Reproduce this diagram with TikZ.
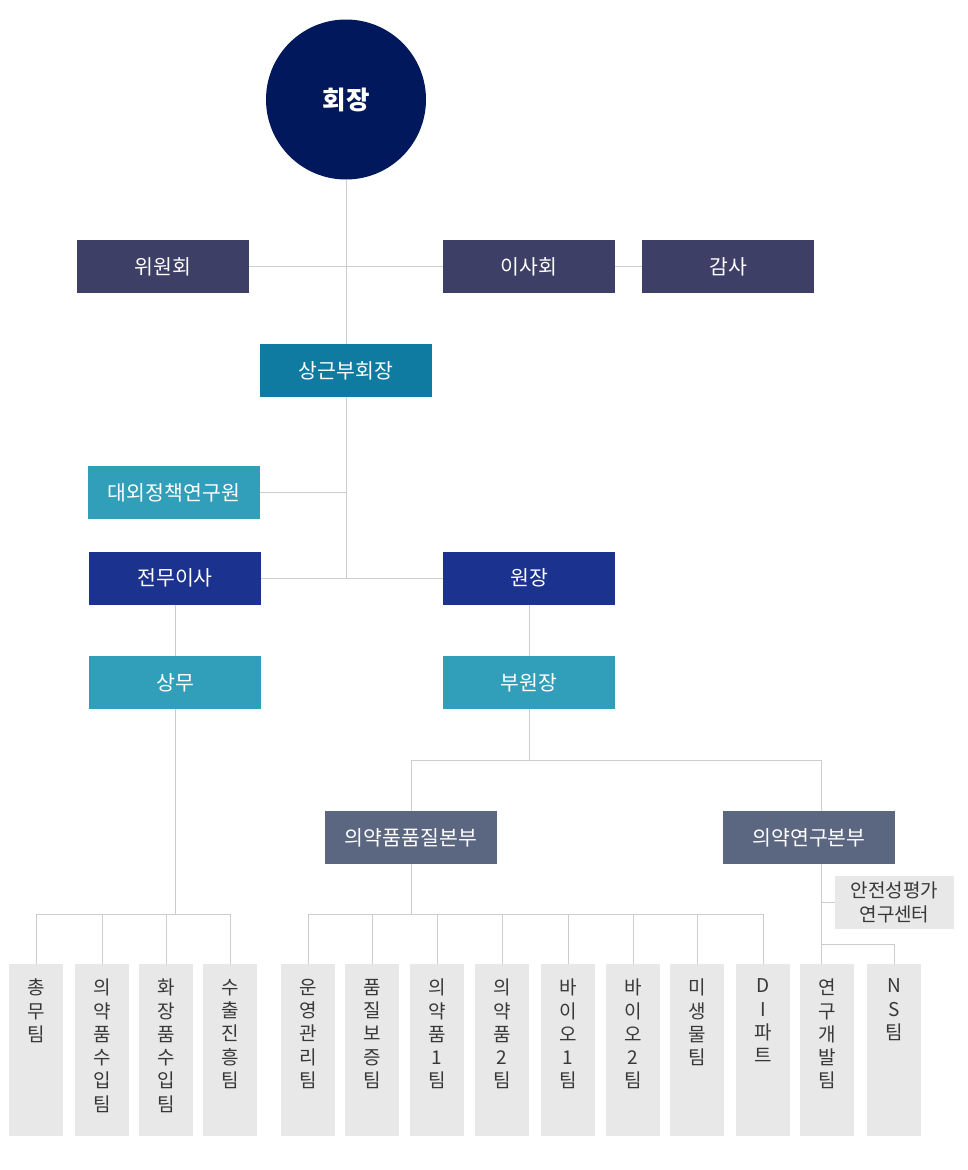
\documentclass[tikz,border=0pt]{standalone}
\usepackage{fontspec}
\setmainfont{Noto Sans CJK KR}
\usetikzlibrary{calc}
\definecolor{linegray}{HTML}{CCCCCC}
\definecolor{chairnavy}{HTML}{02185C}
\definecolor{boardgray}{HTML}{3D3F66}
\definecolor{vpteal}{HTML}{0F7BA0}
\definecolor{lightteal}{HTML}{329FBA}
\definecolor{royal}{HTML}{1B338E}
\definecolor{slate}{HTML}{5B6680}
\definecolor{teamfill}{HTML}{E8E8E8}
\definecolor{teamink}{HTML}{383838}
\begin{document}
\begin{tikzpicture}[x=1pt,y=-1pt,
  conn/.style={draw=linegray,line width=1pt},
  box/.style={rectangle,minimum width=172pt,minimum height=53pt,inner sep=0pt,text=white,font=\fontsize{20.5}{24}\selectfont},
  team/.style={rectangle,fill=teamfill,minimum width=54pt,minimum height=172pt,inner sep=0pt},
  teamtext/.style={anchor=north,inner sep=0pt,align=center,text=teamink,font=\fontsize{19}{23.3}\selectfont,execute at begin node={\vphantom{가}}},
]
\useasboundingbox (0,0) rectangle (968,1170);
\fill[white] (0,0) rectangle (968,1170);

% top
\node[circle,fill=chairnavy,minimum size=160pt,inner sep=0pt,text=white,font=\fontsize{25.5}{28}\selectfont\bfseries] (ch) at (346,99.5) {회장};
\node[box,fill=boardgray] (cm) at (163,266.5) {위원회};
\node[box,fill=boardgray] (bd) at (529,266.5) {이사회};
\node[box,fill=boardgray] (au) at (728,266.5) {감사};
\node[box,fill=vpteal] (vp) at (346,370.5) {상근부회장};
\node[box,fill=lightteal] (inst) at (174,492.5) {대외정책연구원};
\node[box,fill=royal] (ed) at (175,578) {전무이사};
\node[box,fill=royal] (dir) at (529,578) {원장};
\node[box,fill=lightteal] (sm) at (175,682.5) {상무};
\node[box,fill=lightteal] (vd) at (529,682.5) {부원장};
\node[box,fill=slate] (qa) at (411,837.5) {의약품품질본부};
\node[box,fill=slate] (rd) at (809,837.5) {의약연구본부};
\node[rectangle,fill=teamfill,minimum width=119pt,minimum height=53pt,inner sep=0pt,align=center,text=teamink,font=\fontsize{19}{24}\selectfont] (sf) at (894.5,902) {안전성평가\\연구센터};

% teams
\foreach \n/\x in {t1/36,t2/102,t3/166,t4/230,t5/308,t6/372,t7/437,t8/502,t9/568,t10/633,t11/697,t12/763,t13/827,t14/894}
  \node[team] (\n) at (\x,1050) {};
\node[teamtext] at ($(t1.north)+(0,15)$) {총\\무\\팀};
\node[teamtext] at ($(t2.north)+(0,15)$) {의\\약\\품\\수\\입\\팀};
\node[teamtext] at ($(t3.north)+(0,15)$) {화\\장\\품\\수\\입\\팀};
\node[teamtext] at ($(t4.north)+(0,15)$) {수\\출\\진\\흥\\팀};
\node[teamtext] at ($(t5.north)+(0,15)$) {운\\영\\관\\리\\팀};
\node[teamtext] at ($(t6.north)+(0,15)$) {품\\질\\보\\증\\팀};
\node[teamtext] at ($(t7.north)+(0,15)$) {의\\약\\품\\1\\팀};
\node[teamtext] at ($(t8.north)+(0,15)$) {의\\약\\품\\2\\팀};
\node[teamtext] at ($(t9.north)+(0,15)$) {바\\이\\오\\1\\팀};
\node[teamtext] at ($(t10.north)+(0,15)$) {바\\이\\오\\2\\팀};
\node[teamtext] at ($(t11.north)+(0,15)$) {미\\생\\물\\팀};
\node[teamtext] at ($(t12.north)+(0,15)$) {D\\I\\파\\트};
\node[teamtext] at ($(t13.north)+(0,15)$) {연\\구\\개\\발\\팀};
\node[teamtext] at ($(t14.north)+(0,15)$) {N\\S\\팀};

% connectors
\draw[conn] (ch.south) -- (vp.north);
\draw[conn] (cm.east) -- (bd.west);
\draw[conn] (bd.east) -- (au.west);
\draw[conn] (vp.south) -- (vp.south |- ed.east);
\draw[conn] (inst.east) -- (inst.east -| vp.south);
\draw[conn] (ed.east) -- (dir.west);
\draw[conn] (ed.south) -- (sm.north);
\draw[conn] (dir.south) -- (vd.north);

\path (vd.south) ++(0,51) coordinate (j1);
\draw[conn] (vd.south) -- (j1);
\draw[conn] (qa.north) |- (j1) -| ($(rd.north)+(12,0)$);

\path (sm.south) ++(0,205) coordinate (j2);
\draw[conn] (sm.south) -- (j2);
\draw[conn] (t1.north) |- (j2) -| (t4.north);
\foreach \n in {t2,t3} \draw[conn] (\n.north) -- (\n.north |- j2);

\path (qa.south) ++(0,50) coordinate (j3);
\draw[conn] (qa.south) -- (j3);
\draw[conn] (t5.north) |- (j3) -| (t12.north);
\foreach \n in {t6,t7,t8,t9,t10,t11} \draw[conn] (\n.north) -- (\n.north |- j3);

\coordinate (rdb) at ($(rd.south)+(12,0)$);
\draw[conn] (rdb) -- (rdb |- t13.north);
\draw[conn] (rdb |- sf.west) -- (sf.west);
\draw[conn] ($(rdb)+(0,80)$) -| (t14.north);
\end{tikzpicture}
\end{document}
